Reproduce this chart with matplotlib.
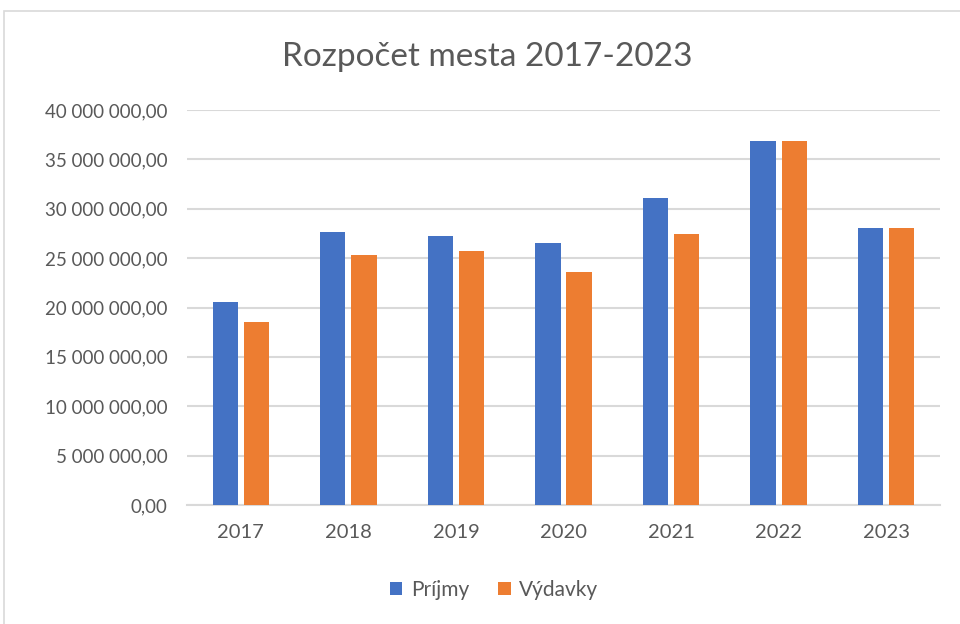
import matplotlib
matplotlib.use("Agg")
from matplotlib import pyplot as plt
from matplotlib.patches import Rectangle
from matplotlib.ticker import FuncFormatter, MultipleLocator
import numpy as np

plt.rcParams['font.family'] = ['Lato', 'DejaVu Sans']

years = ['2017', '2018', '2019', '2020', '2021', '2022', '2023']
prijmy = [20.53e6, 27.65e6, 27.27e6, 26.50e6, 31.06e6, 36.90e6, 28.02e6]
vydavky = [18.56e6, 25.28e6, 25.69e6, 23.63e6, 27.41e6, 36.90e6, 28.02e6]

BLUE = '#4472c4'
ORANGE = '#ed7d31'
GRID = '#d9d9d9'
TEXT = '#595959'


def fmt(v, pos):
    s = f"{v:,.2f}"
    return s.replace(',', ' ').replace('.', ',')


fig = plt.figure(figsize=(9.6, 6.24), dpi=100)
fig.patches.append(Rectangle((4 / 960, -0.1), 1.2, 1 - 11 / 624 + 0.1,
                             transform=fig.transFigure, fill=False,
                             edgecolor=GRID, linewidth=1.2))

ax = fig.add_axes([187 / 960, 1 - 505 / 624, (940 - 187) / 960, (505 - 110) / 624])
x = np.arange(len(years))
w = 0.235
ax.bar(x - 0.145, prijmy, w, color=BLUE, label='Príjmy', zorder=3)
ax.bar(x + 0.145, vydavky, w, color=ORANGE, label='Výdavky', zorder=3)

ax.set_xlim(-0.5, len(years) - 0.5)
ax.set_ylim(0, 40e6)
ax.yaxis.set_major_locator(MultipleLocator(5e6))
ax.yaxis.set_major_formatter(FuncFormatter(fmt))
ax.set_xticks(x, years)
ax.grid(axis='y', color=GRID, linewidth=1.5, zorder=0)
for s in ['top', 'right', 'left']:
    ax.spines[s].set_visible(False)
ax.spines['bottom'].set_color(GRID)
ax.spines['bottom'].set_linewidth(1.5)
ax.tick_params(length=0, labelsize=13.5, colors=TEXT, pad=14)
ax.tick_params(axis='x', labelsize=14.5, pad=14)

fig.text(487 / 960, 1 - 57 / 624, 'Rozpočet mesta 2017-2023', ha='center', va='center',
         fontsize=24, color=TEXT)

fig.legend(loc='center', bbox_to_anchor=(494 / 960, 1 - 590 / 624), ncol=2, frameon=False,
           fontsize=15, labelcolor=TEXT, handlelength=0.6, handleheight=0.6,
           handletextpad=0.4, columnspacing=1.4)

fig.savefig('out.png', dpi=100)
